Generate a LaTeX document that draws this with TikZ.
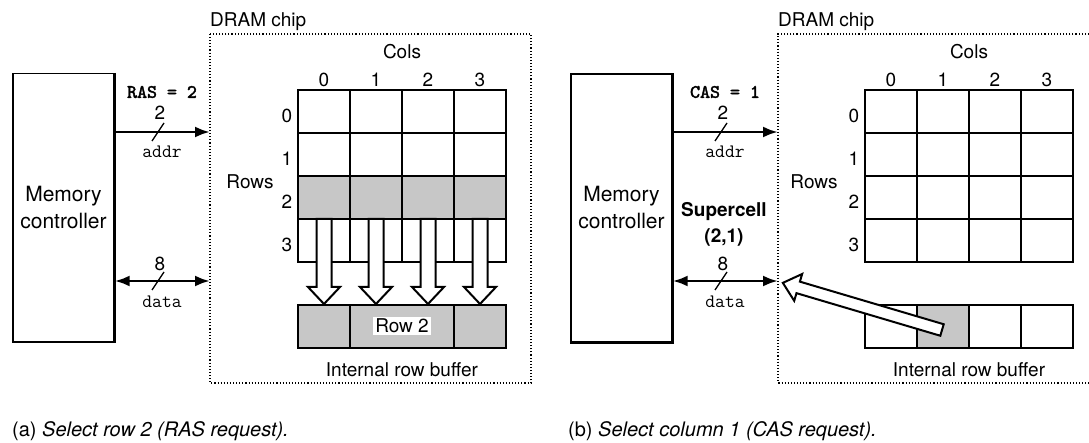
\documentclass[tikz,border=0pt]{standalone}
\usepackage{fontspec}
\setmainfont{TeX Gyre Heros}
\setsansfont{TeX Gyre Heros}
\newfontfamily\monobold{lmmono10-regular.otf}[FakeBold=2.2]
\usetikzlibrary{arrows.meta,calc}
\tikzset{
 lbl/.style={font=\fontsize{19}{22}\selectfont, inner sep=0pt},
 ttl/.style={font=\fontsize{19}{21}\selectfont\ttfamily, inner sep=0pt},
 ttbl/.style={font=\fontsize{19}{21}\selectfont\monobold, inner sep=0pt},
 bus/.style={line width=2.8pt, -{Latex[length=15pt,width=11pt]}},
 dbus/.style={line width=2.8pt, {Latex[length=15pt,width=11pt]}-{Latex[length=15pt,width=11pt]}},
 slashline/.style={line width=1.3pt},
 chip/.style={dotted, line width=1.1pt},
 membox/.style={draw, line width=1.3pt, minimum width=101pt, minimum height=268pt, inner sep=0pt, align=center, font=\fontsize{21}{27}\selectfont},
 thinline/.style={line width=1.1pt},
 thickline/.style={line width=2.6pt},
 shade/.style={fill=black!22},
 hollow/.style={draw, fill=white, line width=2pt, line join=miter},
}
% x y angle length shaft-half head-half head-length
\newcommand\harrow[7]{%
 \begin{scope}[shift={(#1,#2)},rotate=#3]
 \draw[hollow] (0,#5) -- ({#4-#7},#5) -- ({#4-#7},#6) -- (#4,0) -- ({#4-#7},-#6) -- ({#4-#7},-#5) -- (0,-#5) -- cycle;
 \end{scope}}
\begin{document}
\begin{tikzpicture}[x=1pt,y=-1pt]
\useasboundingbox (0,0) rectangle (1089,443);
% ================= left panel =================
\node[membox] (memA) at (63.5,207.5) {Memory\\controller};
\draw[thickline] (memA.north east) -- (memA.south east) -- (memA.south west);
\draw[chip] (210,34) rectangle (531,383);
\node[lbl, anchor=base west] (chipA) at (210,27) {DRAM chip};
% grid
\fill[shade] (298,176) rectangle (506,219);
\fill[shade] (298,305) rectangle (506,348);
\foreach \i in {1,2,3} \draw[thinline] ({298+52*\i},90) -- ({298+52*\i},262);
\foreach \j in {133,176,219} \draw[thinline] (298,\j) -- (506,\j);
\draw[thickline] (298,90) rectangle (506,262);
\draw[thinline] (350,305) -- (350,348) (454,305) -- (454,348);
\draw[thickline] (298,305) rectangle (506,348);
\node[lbl, fill=white, inner sep=2pt] (rowtwo) at (402,326) {Row 2};
\foreach \c in {324,376,428,480} {\harrow{\c}{219}{-90}{85}{7.5}{16}{17}}
\node[lbl] (colsA) at (402,52) {Cols};
\foreach \i in {0,1,2,3} \node[lbl] (cA\i) at ({324+52*\i},80) {\i};
\foreach \i/\y in {0/116,1/159,2/202,3/245} \node[lbl] (rA\i) at (287,\y) {\i};
\node[lbl] (rowsA) at (250,182) {Rows};
\node[lbl] (bufA) at (402,370) {Internal row buffer};
% buses
\coordinate (addrA) at (210,132);
\coordinate (dataA) at (210,281);
\draw[bus] (memA.east |- addrA) -- (addrA);
\draw[dbus] (memA.east |- dataA) -- (dataA);
\coordinate (sA1) at (158,132);
\coordinate (sA2) at (158,281);
\draw[slashline] ($(sA1)+(-6,9)$) -- ($(sA1)+(6,-9)$);
\draw[slashline] ($(sA2)+(-6,9)$) -- ($(sA2)+(6,-9)$);
\node[ttbl] (rasA) at (162,92) {RAS = 2};
\node[lbl] (twoA) at (160,113) {2};
\node[ttl] (addrlA) at (162,152) {addr};
\node[lbl] (eightA) at (160,264) {8};
\node[ttl] (datalA) at (162,302) {data};
\node[lbl, font=\fontsize{20}{22}\selectfont, anchor=base west] (capA) at (12,436) {(a) \textit{Select row 2 (RAS request).}};
% ================= right panel =================
\node[membox] (memB) at (621.5,208) {Memory\\controller};
\draw[thickline] (memB.north east) -- (memB.south east) -- (memB.south west);
\draw[chip] (1092,34) -- (778,34) -- (778,383) -- (1092,383);
\node[lbl, anchor=base west] (chipB) at (778,27) {DRAM chip};
\fill[shade] (917,305) rectangle (969,348);
\foreach \i in {1,2,3} \draw[thinline] ({865+52*\i},90) -- ({865+52*\i},262);
\foreach \j in {133,176,219} \draw[thinline] (865,\j) -- (1073,\j);
\draw[thickline] (865,90) rectangle (1073,262);
\foreach \i in {1,2,3} \draw[thinline] ({865+52*\i},305) -- ({865+52*\i},348);
\draw[thickline] (865,305) rectangle (1073,348);
\node[lbl] (colsB) at (969,52) {Cols};
\foreach \i in {0,1,2,3} \node[lbl] (cB\i) at ({891+52*\i},80) {\i};
\foreach \i/\y in {0/116,1/159,2/202,3/245} \node[lbl] (rB\i) at (854,\y) {\i};
\node[lbl] (rowsB) at (814,182) {Rows};
\node[lbl] (bufB) at (969,370) {Internal row buffer};
\coordinate (addrB) at (778,132);
\coordinate (dataB) at (778,281);
\draw[bus] (memB.east |- addrB) -- (addrB);
\draw[dbus] (memB.east |- dataB) -- (dataB);
\coordinate (sB1) at (721,132);
\coordinate (sB2) at (721,281);
\draw[slashline] ($(sB1)+(-6,9)$) -- ($(sB1)+(6,-9)$);
\draw[slashline] ($(sB2)+(-6,9)$) -- ($(sB2)+(6,-9)$);
\node[ttbl] (casB) at (725,92) {CAS = 1};
\node[lbl] (twoB) at (723,113) {2};
\node[ttl] (addrlB) at (725,152) {addr};
\node[lbl, font=\fontsize{19}{22}\selectfont\bfseries] (superB) at (724,212) {Supercell};
\node[lbl, font=\fontsize{19}{22}\selectfont\bfseries] (coordB) at (724,237) {(2,1)};
\node[lbl] (eightB) at (723,264) {8};
\node[ttl] (datalB) at (725,302) {data};
\harrow{942}{330}{163.5}{166}{6}{14}{16}
\node[lbl, font=\fontsize{20}{22}\selectfont, anchor=base west] (capB) at (568,436) {(b) \textit{Select column 1 (CAS request).}};
\end{tikzpicture}
\end{document}
